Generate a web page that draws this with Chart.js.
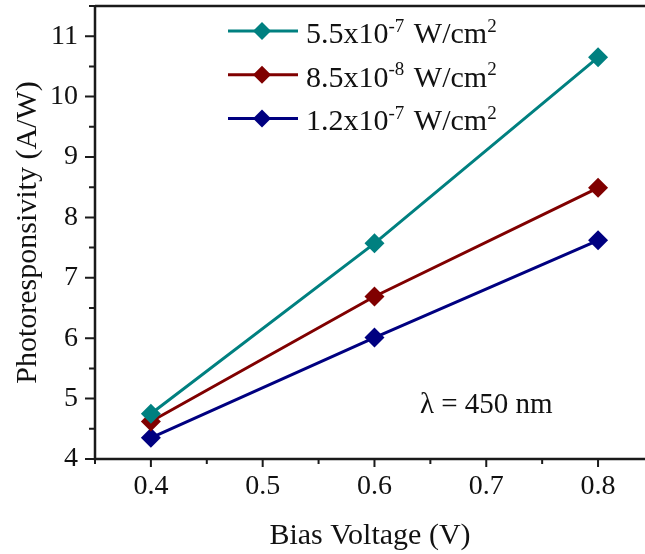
<!DOCTYPE html>
<html lang="en">
<head>
    <meta charset="UTF-8">
    <title>Photoresponsivity vs Bias Voltage</title>
    <style>
        html, body { margin: 0; padding: 0; background: #fff; }
        #wrap { width: 645px; height: 554px; }
    </style>
</head>
<body>

<div id="wrap">
    <canvas id="myChart" width="645" height="554"></canvas>
</div>

<script src="https://cdn.jsdelivr.net/npm/chart.js"></script>

<script>
    // bias voltage (V) and responsivity (A/W) for three light intensities
    const biasVoltage = [0.4, 0.6, 0.8];
    const respHigh = [4.75, 7.57, 10.65];
    const respMid = [4.62, 6.69, 8.49];
    const respLow = [4.35, 6.01, 7.62];
    const seriesLabels = ['5.5x10^-7 W/cm^2', '8.5x10^-8 W/cm^2', '1.2x10^-7 W/cm^2'];
    const seriesColors = ['#008080', '#800000', '#000080'];

    const xTicks = [0.4, 0.5, 0.6, 0.7, 0.8];
    const yTicks = [4, 5, 6, 7, 8, 9, 10, 11];
    const noteText = 'λ = 450 nm';

    const SERIF = '"Liberation Serif", "Times New Roman", serif';
    const AXIS = '#1a1a1a';

    const toPoints = ys => biasVoltage.map((x, i) => ({x: x, y: ys[i]}));

    const makeSet = (label, ys, color) => ({
        label: label,
        data: toPoints(ys),
        borderColor: color,
        backgroundColor: color,
        borderWidth: 3,
        pointStyle: 'rectRot',
        pointRadius: 10,
        pointHoverRadius: 10,
        pointBorderWidth: 0,
        tension: 0
    });

    // draw "a^b" text pieces with raised, smaller exponents
    function drawSupText(ctx, text, x, y, size) {
        const parts = text.split(/(\^-?\d+)/);
        let cx = x;
        parts.forEach(p => {
            if (!p) return;
            if (p[0] === '^') {
                ctx.font = Math.round(size * 0.64) + 'px ' + SERIF;
                ctx.fillText(p.slice(1), cx, y - size * 0.38);
                cx += ctx.measureText(p.slice(1)).width + 2;
            } else {
                ctx.font = size + 'px ' + SERIF;
                ctx.fillText(p, cx, y);
                cx += ctx.measureText(p).width;
            }
        });
    }

    const framePlugin = {
        id: 'frame',
        afterDatasetsDraw(chart) {
            const {ctx, chartArea: a, scales: {x, y}} = chart;
            ctx.save();
            ctx.strokeStyle = AXIS;
            ctx.lineWidth = 2.5;
            ctx.beginPath();
            ctx.moveTo(a.left, a.top);
            ctx.lineTo(a.right, a.top);
            ctx.moveTo(a.left, a.top);
            ctx.lineTo(a.left, a.bottom);
            ctx.lineTo(a.right, a.bottom);
            ctx.stroke();

            // ticks, major and minor, pointing outward
            ctx.lineWidth = 2;
            ctx.beginPath();
            for (let v = 0.35; v < x.max + 1e-9; v += 0.05) {
                const px = x.getPixelForValue(v);
                const major = Math.abs(v * 10 - Math.round(v * 10)) < 1e-6;
                ctx.moveTo(px, a.bottom);
                ctx.lineTo(px, a.bottom + (major ? 8 : 5));
            }
            for (let v = 4; v <= y.max + 1e-9; v += 0.5) {
                const py = y.getPixelForValue(v);
                const major = Math.abs(v - Math.round(v)) < 1e-6;
                ctx.moveTo(a.left, py);
                ctx.lineTo(a.left - (major ? 10 : 6), py);
            }
            ctx.stroke();

            // legend
            ctx.textAlign = 'left';
            ctx.textBaseline = 'alphabetic';
            chart.data.datasets.forEach((ds, i) => {
                const ly = 31 + i * 43.7;
                ctx.strokeStyle = ds.borderColor;
                ctx.lineWidth = 3;
                ctx.beginPath();
                ctx.moveTo(228, ly);
                ctx.lineTo(298, ly);
                ctx.stroke();
                ctx.fillStyle = ds.backgroundColor;
                ctx.beginPath();
                ctx.moveTo(262, ly - 9);
                ctx.lineTo(271, ly);
                ctx.lineTo(262, ly + 9);
                ctx.lineTo(253, ly);
                ctx.closePath();
                ctx.fill();
                ctx.fillStyle = '#111';
                drawSupText(ctx, ds.label, 306, ly + 12, 30);
            });

            // wavelength note
            ctx.fillStyle = '#111';
            ctx.font = '29px ' + SERIF;
            ctx.textAlign = 'center';
            ctx.textBaseline = 'middle';
            ctx.fillText(noteText, x.getPixelForValue(0.7), y.getPixelForValue(4.88));
            ctx.restore();
        }
    };

    const config = {
        type: 'line',
        data: {
            datasets: [
                makeSet(seriesLabels[0], respHigh, seriesColors[0]),
                makeSet(seriesLabels[1], respMid, seriesColors[1]),
                makeSet(seriesLabels[2], respLow, seriesColors[2])
            ]
        },
        options: {
            responsive: false,
            animation: false,
            layout: {autoPadding: false, padding: {top: 6, right: 0, left: 0, bottom: 0}},
            scales: {
                x: {
                    type: 'linear',
                    min: 0.35,
                    max: 0.842,
                    grid: {display: false, drawTicks: false},
                    border: {display: false},
                    afterBuildTicks(scale) {
                        scale.ticks = xTicks.map(v => ({value: v}));
                    },
                    afterFit(scale) {
                        scale.height = 95;
                        scale.paddingLeft = 0;
                        scale.paddingRight = 0;
                    },
                    ticks: {
                        color: '#111',
                        padding: 11,
                        maxRotation: 0,
                        font: {family: SERIF, size: 28},
                        callback: v => v.toFixed(1)
                    },
                    title: {
                        display: true,
                        text: 'Bias Voltage (V)',
                        color: '#111',
                        font: {family: SERIF, size: 30},
                        padding: {top: 0, bottom: 0}
                    }
                },
                y: {
                    min: 4,
                    max: 11.5,
                    grid: {display: false, drawTicks: false},
                    border: {display: false},
                    afterBuildTicks(scale) {
                        scale.ticks = yTicks.map(v => ({value: v}));
                    },
                    afterFit(scale) {
                        scale.width = 95;
                        scale.paddingTop = 0;
                        scale.paddingBottom = 0;
                    },
                    ticks: {
                        color: '#111',
                        padding: 17,
                        font: {family: SERIF, size: 28}
                    },
                    title: {
                        display: true,
                        text: 'Photoresponsivity (A/W)',
                        color: '#111',
                        font: {family: SERIF, size: 30},
                        padding: {top: 10, bottom: 0}
                    }
                }
            },
            plugins: {
                legend: {display: false},
                tooltip: {enabled: false}
            }
        },
        plugins: [framePlugin]
    };

    new Chart(document.getElementById('myChart'), config);
</script>

</body>
</html>
